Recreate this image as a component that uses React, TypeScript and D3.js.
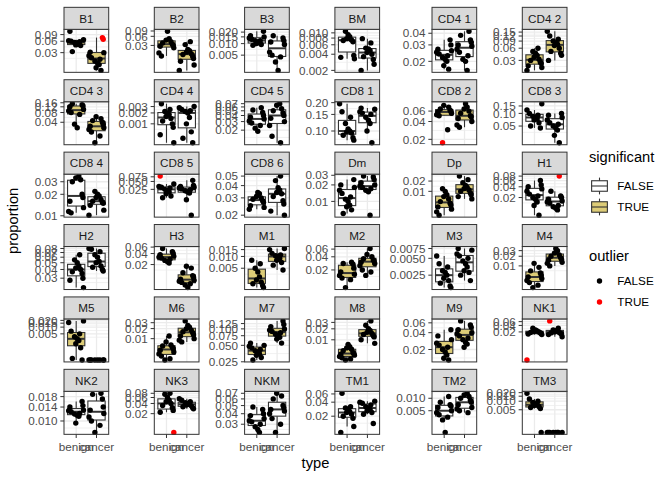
import { useEffect, useRef } from "react"
import * as d3 from "d3"

// facet names, in facet_wrap order (6 columns)
const panels = [
  "B1", "B2", "B3", "BM", "CD4 1", "CD4 2",
  "CD4 3", "CD4 4", "CD4 5", "CD8 1", "CD8 2", "CD8 3",
  "CD8 4", "CD8 5", "CD8 6", "Dm", "Dp", "H1",
  "H2", "H3", "M1", "M2", "M3", "M4",
  "M5", "M6", "M7", "M8", "M9", "NK1",
  "NK2", "NK3", "NKM", "TM1", "TM2", "TM3",
]

const significant = [
  true, true, false, false, false, true,
  true, false, false, false, true, false,
  false, false, false, false, true, false,
  false, true, true, true, false, true,
  true, true, true, true, true, false,
  false, false, false, false, false, true,
]

const types = ["benign", "cancer"]

// y tick labels per facet (log10 axis, free scales)
const tickLabels = [
  ["0.03", "0.06", "0.09"], ["0.03", "0.06", "0.09"], ["0.005", "0.010", "0.015", "0.020"],
  ["0.002", "0.004", "0.006", "0.008", "0.010"], ["0.02", "0.03", "0.04"], ["0.03", "0.06", "0.09", "0.12", "0.15"],
  ["0.04", "0.08", "0.12", "0.16"], ["0.001", "0.002", "0.003"], ["0.01", "0.02", "0.03", "0.04", "0.05", "0.06", "0.07"],
  ["0.10", "0.15", "0.20"], ["0.02", "0.04", "0.06"], ["0.05", "0.10", "0.15"],
  ["0.01", "0.02", "0.03"], ["0.025", "0.050", "0.075"], ["0.02", "0.03", "0.04", "0.05"],
  ["0.01", "0.02", "0.03"], ["0.01", "0.02"], ["0.02", "0.04", "0.06", "0.08"],
  ["0.03", "0.04", "0.05", "0.06", "0.07", "0.08"], ["0.02", "0.04", "0.06"], ["0.005", "0.010", "0.015"],
  ["0.02", "0.04", "0.06"], ["0.0025", "0.0050", "0.0075"], ["0.01", "0.02", "0.03"],
  ["0.005", "0.010", "0.015", "0.020"], ["0.01", "0.02", "0.03"], ["0.025", "0.050", "0.075", "0.100", "0.125"],
  ["0.01", "0.02", "0.03"], ["0.02", "0.04", "0.06"], ["0.02", "0.04", "0.06"],
  ["0.010", "0.014", "0.018"], ["0.02", "0.04", "0.06", "0.08"], ["0.03", "0.04", "0.05", "0.06", "0.07"],
  ["0.02", "0.04", "0.06"], ["0.005", "0.010"], ["0.005", "0.010", "0.015", "0.020"],
]

// proportion per sample, benign group
const benign = [
  [0.11, 0.066, 0.062, 0.06, 0.058, 0.056, 0.054, 0.05, 0.048, 0.046, 0.032],
  [0.088, 0.05, 0.045, 0.04, 0.036, 0.033, 0.03, 0.028, 0.025, 0.017, 0.0135],
  [0.021, 0.016, 0.015, 0.014, 0.013, 0.012, 0.012, 0.011, 0.0105, 0.01, 0.0095, 0.009],
  [0.0107, 0.0092, 0.0085, 0.0078, 0.0074, 0.0072, 0.0068, 0.0038, 0.0035, 0.0033],
  [0.034, 0.03, 0.027, 0.026, 0.025, 0.024, 0.023, 0.022, 0.021, 0.02, 0.018, 0.0165],
  [0.06, 0.05, 0.045, 0.04, 0.036, 0.032, 0.03, 0.027, 0.025, 0.022, 0.02, 0.017],
  [0.15, 0.14, 0.13, 0.12, 0.1, 0.09, 0.08, 0.07, 0.035, 0.027],
  [0.0036, 0.0025, 0.0022, 0.002, 0.0018, 0.0016, 0.0014, 0.0012, 0.001, 0.0008, 0.0005, 0.0003],
  [0.058, 0.052, 0.046, 0.04, 0.037, 0.034, 0.031, 0.028, 0.025, 0.022, 0.019],
  [0.195, 0.16, 0.14, 0.12, 0.105, 0.1, 0.098, 0.095, 0.09, 0.085, 0.08],
  [0.075, 0.07, 0.065, 0.062, 0.06, 0.058, 0.055, 0.052, 0.05, 0.029, 0.0175],
  [0.17, 0.12, 0.1, 0.09, 0.085, 0.08, 0.075, 0.07, 0.06, 0.05, 0.045],
  [0.036, 0.034, 0.032, 0.03, 0.02, 0.018, 0.016, 0.013, 0.0115, 0.011],
  [0.08, 0.04, 0.032, 0.03, 0.028, 0.025, 0.022, 0.02, 0.017, 0.014, 0.012],
  [0.034, 0.033, 0.031, 0.03, 0.029, 0.028, 0.027, 0.025, 0.024, 0.023],
  [0.025, 0.02, 0.018, 0.016, 0.014, 0.012, 0.011, 0.01, 0.0085, 0.008, 0.007, 0.006],
  [0.012, 0.01, 0.008, 0.007, 0.006, 0.005, 0.0045, 0.004, 0.0035, 0.003, 0.0025, 0.002],
  [0.06, 0.045, 0.04, 0.035, 0.03, 0.025, 0.022, 0.02, 0.018, 0.015, 0.012, 0.0064],
  [0.065, 0.055, 0.05, 0.045, 0.042, 0.04, 0.037, 0.035, 0.03, 0.028, 0.022],
  [0.055, 0.045, 0.04, 0.037, 0.034, 0.032, 0.03, 0.028, 0.026, 0.024, 0.022],
  [0.008, 0.0065, 0.005, 0.004, 0.003, 0.0025, 0.0022, 0.002, 0.0018, 0.0016],
  [0.03, 0.028, 0.027, 0.022, 0.018, 0.016, 0.015, 0.013, 0.012, 0.0079],
  [0.0055, 0.004, 0.0035, 0.003, 0.0028, 0.0025, 0.0022, 0.002, 0.0018, 0.0016, 0.0015],
  [0.012, 0.009, 0.007, 0.006, 0.005, 0.0045, 0.004, 0.0035, 0.003, 0.0025, 0.0021],
  [0.019, 0.016, 0.0066, 0.005, 0.0037, 0.003, 0.0025, 0.0018, 0.0012, 0.0004, 0.00034],
  [0.012, 0.008, 0.0065, 0.006, 0.0055, 0.005, 0.0045, 0.004, 0.0035, 0.003, 0.0025, 0.0023],
  [0.055, 0.05, 0.048, 0.045, 0.042, 0.04, 0.038, 0.035, 0.033, 0.03, 0.027],
  [0.0075, 0.0065, 0.006, 0.0055, 0.005, 0.0045, 0.0042, 0.004, 0.0038, 0.0035, 0.0032, 0.003, 0.0028],
  [0.045, 0.035, 0.03, 0.026, 0.024, 0.022, 0.02, 0.018, 0.016, 0.014, 0.013],
  [0.03, 0.025, 0.022, 0.021, 0.02, 0.019, 0.018, 0.017, 0.016, 0.015, 0.001],
  [0.016, 0.0145, 0.014, 0.013, 0.0128, 0.0125, 0.012, 0.0118, 0.0115, 0.0112, 0.0095],
  [0.08, 0.075, 0.06, 0.05, 0.045, 0.04, 0.035, 0.03, 0.025, 0.022, 0.0056],
  [0.048, 0.045, 0.04, 0.038, 0.035, 0.033, 0.032, 0.03, 0.028, 0.026, 0.024],
  [0.062, 0.032, 0.03, 0.028, 0.025, 0.024, 0.022, 0.02, 0.018, 0.012, 0.009],
  [0.011, 0.008, 0.007, 0.0065, 0.006, 0.005, 0.0045, 0.004, 0.0035, 0.003, 0.0015],
  [0.019, 0.012, 0.01, 0.009, 0.008, 0.0075, 0.007, 0.0065, 0.006, 0.0055, 0.0008],
]

// proportion per sample, cancer group
const cancer = [
  [0.075, 0.068, 0.031, 0.03, 0.025, 0.022, 0.02, 0.018, 0.016, 0.0145, 0.012, 0.0102],
  [0.04, 0.032, 0.022, 0.02, 0.018, 0.016, 0.015, 0.013, 0.011, 0.009, 0.0068, 0.0045],
  [0.016, 0.014, 0.012, 0.011, 0.0095, 0.006, 0.005, 0.0045, 0.0033, 0.002],
  [0.0078, 0.0065, 0.0052, 0.005, 0.0047, 0.0043, 0.004, 0.0036, 0.0032, 0.0026, 0.002],
  [0.042, 0.038, 0.034, 0.032, 0.03, 0.029, 0.027, 0.025, 0.023, 0.021, 0.02, 0.016],
  [0.157, 0.12, 0.1, 0.09, 0.08, 0.075, 0.07, 0.06, 0.05, 0.045, 0.04, 0.03],
  [0.059, 0.052, 0.045, 0.04, 0.035, 0.03, 0.027, 0.024, 0.02, 0.015, 0.0093],
  [0.003, 0.0028, 0.0025, 0.0023, 0.0022, 0.002, 0.0015, 0.001, 0.0006, 0.0004, 0.0003],
  [0.07, 0.065, 0.055, 0.05, 0.045, 0.04, 0.035, 0.03, 0.025, 0.015, 0.011],
  [0.175, 0.17, 0.16, 0.155, 0.15, 0.14, 0.13, 0.12, 0.1, 0.075],
  [0.08, 0.07, 0.065, 0.06, 0.055, 0.05, 0.048, 0.045, 0.04, 0.035, 0.032],
  [0.1, 0.09, 0.08, 0.07, 0.06, 0.055, 0.05, 0.045, 0.04, 0.03, 0.02],
  [0.022, 0.02, 0.019, 0.018, 0.017, 0.016, 0.0155, 0.015, 0.014, 0.012, 0.0102],
  [0.055, 0.035, 0.032, 0.03, 0.028, 0.026, 0.024, 0.022, 0.02, 0.018, 0.01, 0.0026],
  [0.05, 0.045, 0.038, 0.036, 0.034, 0.033, 0.031, 0.028, 0.026, 0.022, 0.02],
  [0.029, 0.028, 0.025, 0.022, 0.02, 0.019, 0.018, 0.017, 0.016, 0.015, 0.0056],
  [0.028, 0.022, 0.018, 0.015, 0.013, 0.012, 0.011, 0.01, 0.009, 0.008, 0.007, 0.006],
  [0.08, 0.03, 0.022, 0.02, 0.018, 0.016, 0.015, 0.014, 0.012, 0.011, 0.01, 0.009],
  [0.08, 0.078, 0.072, 0.065, 0.06, 0.052, 0.05, 0.045, 0.043, 0.04, 0.038],
  [0.018, 0.016, 0.012, 0.01, 0.009, 0.008, 0.0075, 0.007, 0.0065, 0.006, 0.0055, 0.0047],
  [0.016, 0.015, 0.012, 0.011, 0.0105, 0.01, 0.009, 0.008, 0.007, 0.006, 0.0045],
  [0.062, 0.045, 0.04, 0.036, 0.034, 0.032, 0.03, 0.028, 0.025, 0.02, 0.018, 0.015],
  [0.0075, 0.007, 0.006, 0.0055, 0.005, 0.0045, 0.004, 0.0035, 0.003, 0.0028, 0.0025, 0.002],
  [0.035, 0.03, 0.025, 0.022, 0.02, 0.018, 0.016, 0.015, 0.013, 0.012, 0.01],
  [0.00034, 0.00034, 0.00034, 0.00034, 0.00034, 0.00034, 0.00034, 0.00034],
  [0.034, 0.025, 0.022, 0.02, 0.018, 0.016, 0.015, 0.013, 0.012, 0.01, 0.009, 0.008],
  [0.14, 0.12, 0.11, 0.1, 0.095, 0.09, 0.085, 0.08, 0.075, 0.07, 0.065, 0.055],
  [0.033, 0.025, 0.02, 0.018, 0.016, 0.015, 0.014, 0.013, 0.012, 0.01, 0.008],
  [0.065, 0.055, 0.05, 0.045, 0.04, 0.038, 0.035, 0.032, 0.03, 0.027, 0.025, 0.022],
  [0.065, 0.03, 0.025, 0.023, 0.022, 0.02, 0.019, 0.018, 0.017, 0.016, 0.015, 0.012],
  [0.0195, 0.019, 0.017, 0.014, 0.013, 0.012, 0.011, 0.01, 0.009, 0.0076],
  [0.055, 0.05, 0.045, 0.042, 0.04, 0.038, 0.036, 0.034, 0.032, 0.03, 0.028],
  [0.07, 0.065, 0.06, 0.05, 0.047, 0.045, 0.043, 0.04, 0.035, 0.03, 0.024],
  [0.042, 0.04, 0.038, 0.035, 0.032, 0.03, 0.028, 0.026, 0.024, 0.022, 0.014],
  [0.0132, 0.012, 0.011, 0.01, 0.009, 0.008, 0.007, 0.006, 0.0055, 0.005, 0.0045],
  [0.0008, 0.0008, 0.0008, 0.0008, 0.0008, 0.0008, 0.0008, 0.0008],
]

// samples flagged as outlier (drawn red): facet, type, value
const outliers: [string, string, number][] = [
  ["B1", "cancer", 0.075], ["B1", "cancer", 0.068],
  ["CD8 2", "benign", 0.0175], ["CD8 5", "benign", 0.08],
  ["H1", "cancer", 0.08], ["NK1", "benign", 0.001],
  ["NK1", "cancer", 0.065], ["NK3", "benign", 0.0056],
]

// fixed horizontal jitter offsets (in x units), width 0.4
const jitter = [-0.31, 0.22, -0.08, 0.36, -0.19, 0.05, -0.37, 0.29, 0.13, -0.25, 0.33, -0.02, 0.17]

const FONT = "'Liberation Sans', Arial, Helvetica, sans-serif"
const SIG_FILL = "#DDCC77"
const PT_R = 2.7

export default function App() {
  const svgRef = useRef<SVGSVGElement | null>(null)

  useEffect(() => {
    if (!svgRef.current) return
    const svg = d3.select(svgRef.current)
    svg.selectAll("*").remove()

    // layout (px)
    const top = 7.33
    const pw = 44.7
    const stripH = 22
    const ph = 43
    const rowPitch = 72.4
    const colGaps = [45.6, 45.6, 45.6, 52.4, 45.6]
    const colX = [64]
    colGaps.forEach((g, i) => colX.push(colX[i] + pw + g))

    const boxStats = (vals: number[]) => {
      const l = vals.map(Math.log10).sort(d3.ascending)
      const q1 = d3.quantile(l, 0.25) as number
      const med = d3.quantile(l, 0.5) as number
      const q3 = d3.quantile(l, 0.75) as number
      const iqr = q3 - q1
      const lo = d3.min(l.filter((v) => v >= q1 - 1.5 * iqr)) as number
      const hi = d3.max(l.filter((v) => v <= q3 + 1.5 * iqr)) as number
      return { q1: 10 ** q1, med: 10 ** med, q3: 10 ** q3, lo: 10 ** lo, hi: 10 ** hi }
    }

    panels.forEach((name, i) => {
      const r = Math.floor(i / 6)
      const c = i % 6
      const x0 = colX[c]
      const y0 = top + r * rowPitch
      const pt = y0 + stripH
      const groups = [benign[i], cancer[i]]
      const all = groups.flat()

      const lmin = Math.log10(d3.min(all) as number)
      const lmax = Math.log10(d3.max(all) as number)
      const ext = (lmax - lmin) * 0.05
      const y = d3
        .scaleLog()
        .domain([10 ** (lmin - ext), 10 ** (lmax + ext)])
        .range([pt + ph, pt])
      const x = d3.scaleLinear().domain([0.4, 2.6]).range([x0, x0 + pw])

      const g = svg.append("g")

      // panel background
      g.append("rect").attr("x", x0).attr("y", pt).attr("width", pw).attr("height", ph).attr("fill", "white")

      // grid lines
      const ticks = tickLabels[i].map(Number).filter((t) => t >= y.domain()[0] && t <= y.domain()[1])
      const lt = tickLabels[i].map((t) => Math.log10(Number(t)))
      const bd = lt[1] - lt[0]
      const ext2 = [lt[0] - bd, ...lt, lt[lt.length - 1] + bd]
      const minors: number[] = []
      for (let k = 0; k < ext2.length - 1; k++) minors.push(10 ** ((ext2[k] + ext2[k + 1]) / 2))
      minors
        .filter((t) => t > y.domain()[0] && t < y.domain()[1])
        .forEach((t) => {
          g.append("line")
            .attr("x1", x0).attr("x2", x0 + pw)
            .attr("y1", y(t)).attr("y2", y(t))
            .attr("stroke", "#EBEBEB").attr("stroke-width", 0.7)
        })
      ticks.forEach((t) => {
        g.append("line")
          .attr("x1", x0).attr("x2", x0 + pw)
          .attr("y1", y(t)).attr("y2", y(t))
          .attr("stroke", "#EBEBEB").attr("stroke-width", 1.3)
      })
      ;[1, 2].forEach((v) => {
        g.append("line")
          .attr("x1", x(v)).attr("x2", x(v))
          .attr("y1", pt).attr("y2", pt + ph)
          .attr("stroke", "#EBEBEB").attr("stroke-width", 1.3)
      })

      // boxplots
      const bw = 0.85
      groups.forEach((vals, k) => {
        const s = boxStats(vals)
        const cx = x(k + 1)
        g.append("line")
          .attr("x1", cx).attr("x2", cx)
          .attr("y1", y(s.hi)).attr("y2", y(s.q3))
          .attr("stroke", "#333333").attr("stroke-width", 1.1)
        g.append("line")
          .attr("x1", cx).attr("x2", cx)
          .attr("y1", y(s.q1)).attr("y2", y(s.lo))
          .attr("stroke", "#333333").attr("stroke-width", 1.1)
        g.append("rect")
          .attr("x", x(k + 1 - bw / 2))
          .attr("y", y(s.q3))
          .attr("width", x(k + 1 + bw / 2) - x(k + 1 - bw / 2))
          .attr("height", Math.max(0, y(s.q1) - y(s.q3)))
          .attr("fill", significant[i] ? SIG_FILL : "white")
          .attr("stroke", "#333333").attr("stroke-width", 1.1)
        g.append("line")
          .attr("x1", x(k + 1 - bw / 2)).attr("x2", x(k + 1 + bw / 2))
          .attr("y1", y(s.med)).attr("y2", y(s.med))
          .attr("stroke", "#333333").attr("stroke-width", 2)
      })

      // jittered points
      groups.forEach((vals, k) => {
        vals.forEach((v, j) => {
          const isOut = outliers.some((o) => o[0] === name && o[1] === types[k] && o[2] === v)
          const off = jitter[(j * 3 + i * 5 + k * 7) % jitter.length]
          g.append("circle")
            .attr("cx", x(k + 1 + off))
            .attr("cy", y(v))
            .attr("r", PT_R)
            .attr("fill", isOut ? "red" : "black")
        })
      })

      // panel border
      g.append("rect")
        .attr("x", x0).attr("y", pt).attr("width", pw).attr("height", ph)
        .attr("fill", "none").attr("stroke", "#333333").attr("stroke-width", 1)

      // strip
      g.append("rect")
        .attr("x", x0).attr("y", y0).attr("width", pw).attr("height", stripH)
        .attr("fill", "#D9D9D9").attr("stroke", "#333333").attr("stroke-width", 1)
      g.append("text")
        .attr("x", x0 + pw / 2).attr("y", y0 + stripH / 2 + 4.2)
        .attr("text-anchor", "middle")
        .attr("font-family", FONT).attr("font-size", 11.7)
        .attr("fill", "#1A1A1A")
        .text(name)

      // y axis
      tickLabels[i].forEach((lab) => {
        const t = Number(lab)
        if (t < y.domain()[0] || t > y.domain()[1]) return
        g.append("line")
          .attr("x1", x0 - 3.67).attr("x2", x0)
          .attr("y1", y(t)).attr("y2", y(t))
          .attr("stroke", "#333333").attr("stroke-width", 1)
        g.append("text")
          .attr("x", x0 - 3.67 - 2.93).attr("y", y(t) + 4.2)
          .attr("text-anchor", "end")
          .attr("font-family", FONT).attr("font-size", 11.7)
          .attr("fill", "#4D4D4D")
          .text(lab)
      })

      // x axis on the bottom row
      if (r === 5) {
        types.forEach((tp, k) => {
          g.append("line")
            .attr("x1", x(k + 1)).attr("x2", x(k + 1))
            .attr("y1", pt + ph).attr("y2", pt + ph + 3.67)
            .attr("stroke", "#333333").attr("stroke-width", 1)
          g.append("text")
            .attr("x", x(k + 1)).attr("y", pt + ph + 16.5)
            .attr("text-anchor", "middle")
            .attr("font-family", FONT).attr("font-size", 11.7)
            .attr("fill", "#4D4D4D")
            .text(tp)
        })
      }
    })

    const right = colX[5] + pw
    const bottom = top + 5 * rowPitch + stripH + ph

    // axis titles
    svg.append("text")
      .attr("x", (colX[0] + right) / 2).attr("y", bottom + 33.5)
      .attr("text-anchor", "middle")
      .attr("font-family", FONT).attr("font-size", 14.7)
      .attr("fill", "black")
      .text("type")
    svg.append("text")
      .attr("transform", `translate(18,${(top + bottom) / 2}) rotate(-90)`)
      .attr("text-anchor", "middle")
      .attr("font-family", FONT).attr("font-size", 14.7)
      .attr("fill", "black")
      .text("proportion")

    // legends
    const lx = right + 14.67 + 7.33
    const key = 21
    const leg1 = svg.append("g")
    leg1.append("text")
      .attr("x", lx).attr("y", 162)
      .attr("font-family", FONT).attr("font-size", 14.7)
      .text("significant")
    ;[false, true].forEach((sig, k) => {
      const ky = 175.5 + k * key
      leg1.append("rect").attr("x", lx).attr("y", ky).attr("width", key).attr("height", key).attr("fill", "white")
      leg1.append("line")
        .attr("x1", lx + key / 2).attr("x2", lx + key / 2)
        .attr("y1", ky + key * 0.1).attr("y2", ky + key * 0.9)
        .attr("stroke", "#333333").attr("stroke-width", 1.1)
      leg1.append("rect")
        .attr("x", lx + key * 0.125).attr("y", ky + key * 0.25)
        .attr("width", key * 0.75).attr("height", key * 0.5)
        .attr("fill", sig ? SIG_FILL : "white")
        .attr("stroke", "#333333").attr("stroke-width", 1.1)
      leg1.append("line")
        .attr("x1", lx + key * 0.125).attr("x2", lx + key * 0.875)
        .attr("y1", ky + key / 2).attr("y2", ky + key / 2)
        .attr("stroke", "#333333").attr("stroke-width", 1.1)
      leg1.append("text")
        .attr("x", lx + key + 7.33).attr("y", ky + key / 2 + 4.2)
        .attr("font-family", FONT).attr("font-size", 11.7)
        .text(sig ? "TRUE" : "FALSE")
    })

    const leg2 = svg.append("g")
    leg2.append("text")
      .attr("x", lx).attr("y", 261)
      .attr("font-family", FONT).attr("font-size", 14.7)
      .text("outlier")
    ;[false, true].forEach((o, k) => {
      const ky = 270.5 + k * key
      leg2.append("circle")
        .attr("cx", lx + key / 2).attr("cy", ky + key / 2).attr("r", PT_R)
        .attr("fill", o ? "red" : "black")
      leg2.append("text")
        .attr("x", lx + key + 7.33).attr("y", ky + key / 2 + 4.2)
        .attr("font-family", FONT).attr("font-size", 11.7)
        .text(o ? "TRUE" : "FALSE")
    })
  }, [])

  return (
    <svg
      ref={svgRef}
      width={672}
      height={480}
      style={{ position: "absolute", left: 0, top: 0, background: "white" }}
    />
  )
}
